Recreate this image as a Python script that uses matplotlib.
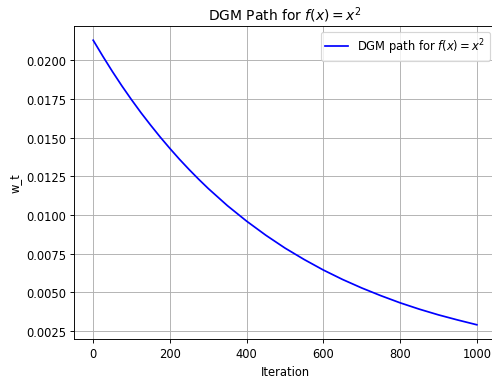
import matplotlib
matplotlib.use('Agg')
import matplotlib.pyplot as plt
import numpy as np

# values (denser where the curve bends most)
iterations = [0, 25, 50, 75, 100, 125, 150, 175, 200, 225, 250, 275, 300,
              350, 400, 450, 500, 550, 600, 650, 700, 750, 800, 850, 900,
              950, 1000]
w_t = [0.02130, 0.02027, 0.01928, 0.01834, 0.01745, 0.01660, 0.01580,
       0.01503, 0.01430, 0.01360, 0.01294, 0.01231, 0.01171, 0.01060,
       0.00960, 0.00869, 0.00786, 0.00712, 0.00644, 0.00583, 0.00528,
       0.00478, 0.00432, 0.00391, 0.00354, 0.00321, 0.00290]

dpi = 83
fig = plt.figure(figsize=(492/dpi, 383/dpi), dpi=dpi)
ax = fig.add_axes([74/492, 43/383, 422/492, 313/383])
ax.plot(iterations, w_t, color='blue', linewidth=1.5, label=r'DGM path for $f(x) = x^2$')
ax.set_title(r'DGM Path for $f(x) = x^2$')
ax.set_xlabel('Iteration')
ax.set_ylabel('w_t')
ax.set_xticks([0, 200, 400, 600, 800, 1000])
ax.set_yticks([0.0025, 0.0050, 0.0075, 0.0100, 0.0125, 0.0150, 0.0175, 0.0200])
ax.grid(True)
ax.legend(loc='upper right')
fig.savefig('out.png', dpi=dpi)
